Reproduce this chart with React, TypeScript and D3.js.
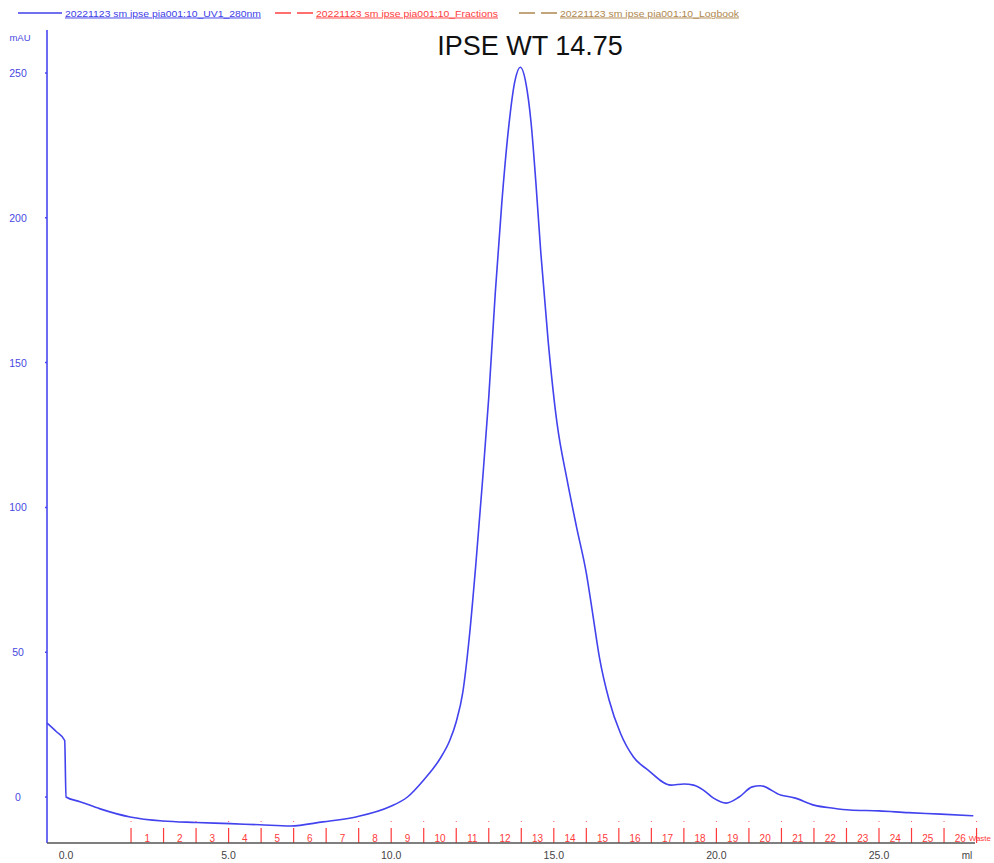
import * as React from "react";
import * as d3 from "d3";

// UV trace (ml, mAU)
const volume = [
  -0.58, -0.3, -0.04, 0.0, 0.43, 1.05, 1.97, 2.98, 4.0, 5.05, 5.97, 6.9, 7.9, 8.95, 9.97, 10.5, 11.0, 11.5,
  11.8, 12.0, 12.2, 12.4, 12.6, 12.8, 13.0, 13.2, 13.4, 13.6, 13.8, 13.97, 14.15, 14.3, 14.45, 14.6, 14.83,
  15.1, 15.4, 15.7, 16.0, 16.2, 16.4, 16.7, 17.05, 17.45, 17.9, 18.6, 19.0, 19.3, 19.6, 19.9, 20.3, 20.7,
  21.1, 21.35, 21.97, 22.4, 23.0, 23.6, 24.1, 25.0, 25.9, 26.9, 27.9,
];
const absorbance = [
  25.5, 22.6, 19.5, 0.0, -1.6, -4.1, -6.9, -8.3, -8.8, -9.2, -9.6, -10.0, -8.6, -6.8, -3.3, 0.0, 5.9, 13.2,
  19.5, 26, 36, 55, 80, 108, 138, 174, 205, 230, 247, 252, 246, 233, 212, 188, 157,
  129, 110, 93.2, 77.3, 63, 48.4, 33.5, 22, 13.8, 9.3, 4.1, 4.5, 4.1, 2.4, -0.3, -2.1, 0,
  3.5, 3.9, 0.7, -0.3, -2.8, -3.9, -4.5, -4.8, -5.4, -5.9, -6.5,
];

const yTicks = [0, 50, 100, 150, 200, 250];
const xTicks = [0, 5, 10, 15, 20, 25];
const fractionStarts = d3.range(2, 29); // 2 .. 28 ml
const fractionLabels = [...d3.range(1, 27).map(String), "Waste"];

const legendItems = [
  { label: "20221123 sm ipse pia001:10_UV1_280nm", color: "#4040e8", dash: "none" },
  { label: "20221123 sm ipse pia001:10_Fractions", color: "#ff4040", dash: "16,6" },
  { label: "20221123 sm ipse pia001:10_Logbook", color: "#b08850", dash: "16,6" },
];

const title = "IPSE WT 14.75";

export default function App() {
  const width = 994;
  const height = 863;
  const font = "'Liberation Sans', Arial, sans-serif";

  const x = d3.scaleLinear().domain([0, 25]).range([66, 879]);
  const y = d3.scaleLinear().domain([0, 250]).range([797, 73]);

  const axisX = 47;
  const axisY = 843;
  const axisTop = 30;
  const axisRight = 975;

  const points: [number, number][] = volume.map((v, i) => [v, absorbance[i]]);
  const line = d3
    .line<[number, number]>()
    .x((d) => x(d[0]))
    .y((d) => y(d[1]))
    .curve(d3.curveMonotoneX);

  const legendX = [18, 275, 519];
  const legendLineW = [44, 38, 38];
  const legendTextW = [196, 182, 179];

  return (
    <svg
      width={width}
      height={height}
      style={{ position: "absolute", left: 0, top: 0, background: "#fff" }}
      fontFamily={font}
    >
      {/* legend */}
      {legendItems.map((item, i) => (
        <g key={item.label} transform={`translate(${legendX[i]}, 13)`}>
          <line
            x1={0}
            x2={legendLineW[i]}
            y1={0}
            y2={0}
            stroke={item.color}
            strokeWidth={1.3}
            strokeDasharray={item.dash}
          />
          <text
            x={legendLineW[i] + 3}
            y={3.5}
            fontSize={9.5}
            fill={item.color}
            textDecoration="underline"
            textLength={legendTextW[i]}
            lengthAdjust="spacingAndGlyphs"
          >
            {item.label}
          </text>
        </g>
      ))}

      <text x={530} y={55} fontSize={27} textAnchor="middle" fill="#111">
        {title}
      </text>

      {/* y axis */}
      <line x1={axisX} x2={axisX} y1={axisTop} y2={axisY} stroke="#4848f0" strokeWidth={1.6} />
      <text x={20} y={41} fontSize={9.5} textAnchor="middle" fill="#4848e0">
        mAU
      </text>
      {yTicks.map((t) => (
        <g key={t} transform={`translate(0, ${y(t)})`}>
          <line x1={axisX - 2} x2={axisX} stroke="#4848f0" strokeWidth={1.5} />
          <text x={18} y={0} fontSize={10.5} textAnchor="middle" dominantBaseline="central" fill="#4848e0">
            {t}
          </text>
        </g>
      ))}

      {/* fractions */}
      {fractionStarts.map((f, i) => (
        <g key={f}>
          <line x1={x(f)} x2={x(f)} y1={828} y2={axisY} stroke="#ff3a3a" strokeWidth={1.2} />
          <rect x={x(f) - 0.5} y={821} width={1} height={1} fill="#ff6060" />
          {i < fractionStarts.length - 1 ? (
            <text
              x={(x(f) + x(fractionStarts[i + 1])) / 2}
              y={838}
              fontSize={10}
              textAnchor="middle"
              dominantBaseline="central"
              fill="#ff3a3a"
            >
              {fractionLabels[i]}
            </text>
          ) : (
            <text x={991} y={838} fontSize={8} textAnchor="end" dominantBaseline="central" fill="#ff3a3a">
              {fractionLabels[i]}
            </text>
          )}
        </g>
      ))}

      {/* x axis */}
      <line x1={axisX} x2={axisRight} y1={axisY} y2={axisY} stroke="#555" strokeWidth={1.5} />
      {xTicks.map((t) => (
        <text
          key={t}
          x={x(t)}
          y={855}
          fontSize={10.5}
          textAnchor="middle"
          dominantBaseline="central"
          fill="#444"
        >
          {t.toFixed(1)}
        </text>
      ))}
      <text x={967} y={855} fontSize={10} textAnchor="middle" dominantBaseline="central" fill="#444">
        ml
      </text>

      {/* UV trace */}
      <path d={line(points) ?? ""} fill="none" stroke="#4242ee" strokeWidth={1.6} />
    </svg>
  );
}
